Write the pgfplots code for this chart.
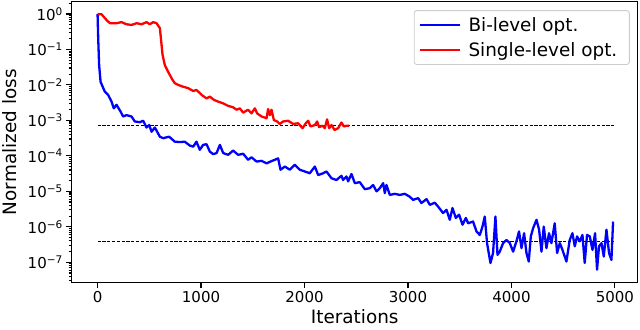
\documentclass[border=0pt]{standalone}
\usepackage{fontspec}
\setmainfont{DejaVu Sans}
\usepackage{pgfplots}
\pgfplotsset{compat=1.18}

\definecolor{mplblue}{RGB}{0,0,255}
\definecolor{mplred}{RGB}{255,0,0}
\definecolor{legedge}{RGB}{204,204,204}

\begin{document}
\begin{tikzpicture}
\useasboundingbox (-71.7bp,-47.3bp) rectangle (568.3bp,282.7bp);
\begin{axis}[
    scale only axis,
    width=566bp, height=281bp,
    xmin=-250, xmax=5220,
    ymode=log,
    ymin=2.66e-8, ymax=2.22,
    axis line style={black, line width=1.3bp},
    tick align=outside,
    tick pos=left,
    major tick length=5.4bp,
    minor tick length=3bp,
    every tick/.style={black, line width=1.1bp},
    xtick={0,1000,2000,3000,4000,5000},
    ytick={1e-7,1e-6,1e-5,1e-4,1e-3,1e-2,1e-1,1},
    yticklabels={10\textsuperscript{−7},10\textsuperscript{−6},10\textsuperscript{−5},10\textsuperscript{−4},10\textsuperscript{−3},10\textsuperscript{−2},10\textsuperscript{−1},10\textsuperscript{0}},
    minor ytick={3e-8,4e-8,5e-8,6e-8,7e-8,8e-8,9e-8,
                 2e-7,3e-7,4e-7,5e-7,6e-7,7e-7,8e-7,9e-7,
                 2e-6,3e-6,4e-6,5e-6,6e-6,7e-6,8e-6,9e-6,
                 2e-5,3e-5,4e-5,5e-5,6e-5,7e-5,8e-5,9e-5,
                 2e-4,3e-4,4e-4,5e-4,6e-4,7e-4,8e-4,9e-4,
                 2e-3,3e-3,4e-3,5e-3,6e-3,7e-3,8e-3,9e-3,
                 2e-2,3e-2,4e-2,5e-2,6e-2,7e-2,8e-2,9e-2,
                 2e-1,3e-1,4e-1,5e-1,6e-1,7e-1,8e-1,9e-1,2},
    /pgf/number format/assume math mode=true,
    /pgf/number format/1000 sep={},
    ticklabel style={font=\fontsize{15bp}{18bp}\selectfont},
    xlabel={Iterations},
    ylabel={Normalized loss},
    ylabel shift=4bp,
    label style={font=\fontsize{18.4bp}{22bp}\selectfont},
    legend style={at={(0.986,0.970)}, anchor=north east,
        draw=legedge, line width=0.9bp, rounded corners=2.5bp, fill=white,
        font=\fontsize{18.4bp}{22bp}\selectfont,
        inner xsep=5bp, inner ysep=5bp, row sep=5bp,
        nodes={inner xsep=7bp}},
    legend cell align=left,
    legend image code/.code={\draw[#1, line width=2.3bp] (0bp,0bp) -- (40bp,0bp);},
]
% reference levels
\addplot[black, line width=0.8bp, dash pattern=on 3.2bp off 1.6bp, forget plot]
    coordinates {(0,7.3e-4) (5000,7.3e-4)};
\addplot[black, line width=0.8bp, dash pattern=on 3.2bp off 1.6bp, forget plot]
    coordinates {(0,4.0e-7) (5000,4.0e-7)};

% bi-level
\addplot[mplblue, line width=2.3bp, line join=round] coordinates {
(0,1) (6,2.09e-1) (15,3.63e-2) (29,1.23e-2) (70,6.46e-3) (102,5.25e-3)
(135,3.39e-3) (157,2.19e-3) (183,2.75e-3) (222,1.78e-3) (247,1.29e-3)
(280,1.41e-3) (328,1.29e-3) (360,9.33e-4) (409,8.91e-4) (441,9.77e-4)
(473,6.31e-4) (499,7.41e-4) (522,4.79e-4) (554,6.31e-4) (602,3.47e-4)
(634,3.16e-4) (692,3.47e-4) (747,2.51e-4) (795,2.45e-4) (843,2.51e-4)
(892,1.95e-4) (924,1.82e-4) (956,2.51e-4) (988,1.48e-4) (1020,2.04e-4)
(1053,2.14e-4) (1085,1.32e-4) (1117,1.12e-4) (1150,1.20e-4) (1182,2.04e-4)
(1214,1.20e-4) (1262,1.07e-4) (1310,1.41e-4) (1359,1.07e-4) (1407,1.15e-4)
(1455,7.76e-5) (1488,9.12e-5) (1536,6.92e-5) (1585,7.24e-5) (1633,6.17e-5)
(1671,6.92e-5) (1713,7.76e-5) (1745,8.51e-5) (1768,4.07e-5) (1810,5.01e-5)
(1858,4.07e-5) (1906,5.62e-5) (1955,4.07e-5) (2003,3.63e-5) (2051,3.24e-5)
(2100,5.01e-5) (2132,2.88e-5) (2180,3.24e-5) (2212,3.63e-5) (2261,2.34e-5)
(2309,2.09e-5) (2357,2.75e-5) (2373,2.09e-5) (2406,2.63e-5) (2421,1.91e-5)
(2454,3.09e-5) (2486,1.70e-5) (2534,1.82e-5) (2583,1.15e-5) (2631,1.23e-5)
(2663,1.51e-5) (2696,1.00e-5) (2728,1.23e-5) (2760,1.70e-5) (2776,8.91e-6)
(2792,1.51e-5) (2824,7.94e-6) (2873,8.51e-6) (2921,7.94e-6) (2969,8.51e-6)
(3017,7.08e-6) (3049,5.75e-6) (3098,6.46e-6) (3130,4.68e-6) (3179,6.03e-6)
(3211,4.17e-6) (3259,4.79e-6) (3291,3.72e-6) (3339,2.45e-6) (3372,3.02e-6)
(3404,1.58e-6) (3430,3.39e-6) (3462,1.78e-6) (3494,2.19e-6) (3527,1.15e-6)
(3559,1.78e-6) (3581,1.26e-6) (3629,1.41e-6) (3662,7.41e-7) (3694,5.89e-7)
(3720,1.02e-6) (3742,1.95e-6) (3764,3.47e-7) (3797,9.55e-8) (3822,1.82e-7)
(3845,1.95e-6) (3865,1.62e-7) (3887,2.00e-7) (3919,3.47e-7) (3952,4.27e-7)
(3984,3.47e-7) (4016,2.00e-7) (4048,3.89e-7) (4073,7.41e-7) (4097,2.51e-7)
(4122,6.61e-7) (4145,1.82e-7) (4167,1.05e-7) (4187,5.37e-7) (4209,9.12e-7)
(4242,1.58e-6) (4267,8.32e-7) (4290,2.00e-7) (4312,1.02e-6) (4338,2.51e-7)
(4363,6.61e-7) (4386,3.47e-7) (4418,1.26e-6) (4441,1.82e-7) (4467,3.47e-7)
(4493,2.24e-7) (4531,1.05e-7) (4563,4.27e-7) (4589,6.61e-7) (4612,2.82e-7)
(4634,5.37e-7) (4660,3.89e-7) (4686,5.89e-7) (4708,9.55e-8) (4730,5.89e-7)
(4757,5.37e-7) (4783,2.24e-7) (4808,6.61e-7) (4827,6.17e-8) (4846,2.82e-7)
(4870,3.47e-7) (4892,1.45e-7) (4918,8.32e-7) (4943,1.82e-7) (4966,1.17e-7)
(4982,1.41e-6)
};
\addlegendentry{Bi-level opt.}

% single-level
\addplot[mplred, line width=2.3bp, line join=round] coordinates {
(0,1) (39,0.977) (87,0.676) (119,0.550) (183,0.550) (232,0.589) (280,0.513)
(328,0.490) (377,0.550) (425,0.513) (473,0.589) (505,0.513) (537,0.589)
(570,0.550) (602,0.398) (612,0.209) (628,7.08e-2) (650,3.63e-2) (682,2.34e-2)
(725,1.38e-2) (747,1.12e-2) (779,1.00e-2) (827,8.91e-3) (875,8.13e-3)
(924,6.76e-3) (956,7.24e-3) (1005,5.25e-3) (1053,4.17e-3) (1085,4.68e-3)
(1124,3.80e-3) (1165,3.39e-3) (1214,3.02e-3) (1262,2.57e-3) (1310,2.34e-3)
(1343,2.00e-3) (1375,2.19e-3) (1407,1.66e-3) (1455,2.00e-3) (1488,1.58e-3)
(1520,2.19e-3) (1542,1.58e-3) (1585,1.29e-3) (1633,1.15e-3) (1648,2.09e-3)
(1665,1.41e-3) (1681,2.00e-3) (1704,1.02e-3) (1736,9.33e-4) (1761,7.94e-4)
(1793,9.33e-4) (1842,9.77e-4) (1890,7.94e-4) (1938,8.32e-4) (1981,6.03e-4)
(2013,8.32e-4) (2035,9.77e-4) (2058,6.76e-4) (2100,7.41e-4) (2122,9.33e-4)
(2141,6.46e-4) (2174,7.08e-4) (2196,6.03e-4) (2218,1.07e-3) (2238,6.03e-4)
(2261,7.41e-4) (2290,5.37e-4) (2325,6.03e-4) (2357,8.71e-4) (2380,6.76e-4)
(2406,7.08e-4) (2431,7.08e-4)
};
\addlegendentry{Single-level opt.}
\end{axis}
\end{tikzpicture}
\end{document}
